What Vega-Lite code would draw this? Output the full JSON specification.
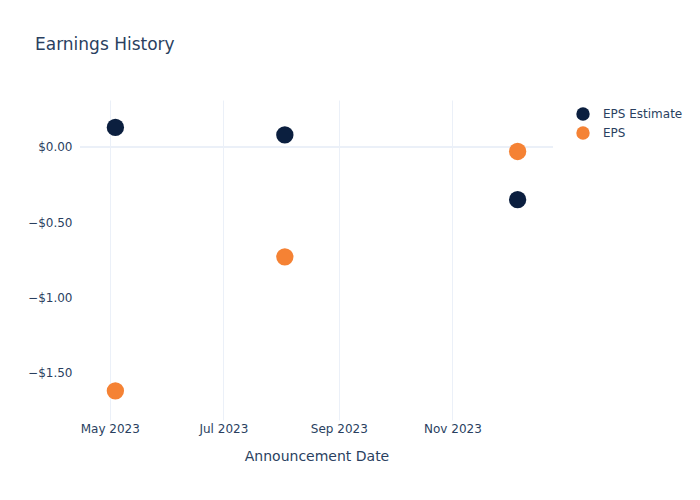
{
  "$schema": "https://vega.github.io/schema/vega-lite/v6.json",
  "width": 473,
  "height": 320,
  "autosize": {"type": "none"},
  "padding": {"left": 80, "top": 100, "right": 147, "bottom": 80},
  "background": "white",
  "title": {
    "text": "Earnings History",
    "anchor": "start",
    "frame": "group",
    "dx": -45,
    "offset": 46,
    "fontSize": 17,
    "fontWeight": "normal",
    "font": "DejaVu Sans",
    "color": "#2a3f5f"
  },
  "data": {
    "values": [
      {"date": "2023-05-04", "series": "EPS Estimate", "value": 0.13},
      {"date": "2023-08-03", "series": "EPS Estimate", "value": 0.08},
      {"date": "2023-12-06", "series": "EPS Estimate", "value": -0.35},
      {"date": "2023-05-04", "series": "EPS", "value": -1.62},
      {"date": "2023-08-03", "series": "EPS", "value": -0.73},
      {"date": "2023-12-06", "series": "EPS", "value": -0.03}
    ]
  },
  "config": {
    "view": {"stroke": null},
    "font": "DejaVu Sans"
  },
  "layer": [
    {
      "mark": {"type": "rule", "color": "#ebf0f8", "strokeWidth": 2},
      "encoding": {"y": {"datum": 0, "type": "quantitative"}}
    },
    {
      "mark": {"type": "point", "filled": true, "opacity": 1, "shape": "circle", "size": 300},
      "encoding": {
        "x": {
          "field": "date",
          "type": "temporal",
          "scale": {"domain": ["2023-04-15", "2023-12-25"]},
          "axis": {
            "title": "Announcement Date",
            "titleFontSize": 14,
            "titleFontWeight": "normal",
            "titleColor": "#2a3f5f",
            "titlePadding": 15,
            "labelColor": "#2a3f5f",
            "labelFontSize": 12,
            "labelPadding": 3,
            "format": "%b %Y",
            "values": ["2023-05-01T00:00:00", "2023-07-01T00:00:00", "2023-09-01T00:00:00", "2023-11-01T00:00:00"],
            "domain": false,
            "ticks": false,
            "gridColor": "#ebf0f8",
            "gridWidth": 1
          }
        },
        "y": {
          "field": "value",
          "type": "quantitative",
          "scale": {"domain": [-1.814, 0.312], "nice": false, "zero": false},
          "axis": {
            "title": null,
            "values": [0, -0.5, -1, -1.5],
            "labelExpr": "datum.value < 0 ? '\u2212$' + format(-datum.value, '.2f') : '$' + format(datum.value, '.2f')",
            "labelColor": "#2a3f5f",
            "labelFontSize": 12,
            "labelPadding": 8,
            "domain": false,
            "ticks": false,
            "gridColor": "#ebf0f8",
            "gridWidth": 1
          }
        },
        "color": {
          "field": "series",
          "type": "nominal",
          "scale": {"domain": ["EPS Estimate", "EPS"], "range": ["#0b1f3f", "#f58234"]},
          "legend": {
            "title": null,
            "orient": "none",
            "legendX": 496,
            "legendY": 7,
            "padding": 0,
            "symbolType": "circle",
            "symbolSize": 180,
            "symbolStrokeWidth": 0,
            "symbolOpacity": 1,
            "labelFontSize": 12,
            "labelColor": "#2a3f5f",
            "labelOffset": 13,
            "rowPadding": 5
          }
        }
      }
    }
  ]
}
